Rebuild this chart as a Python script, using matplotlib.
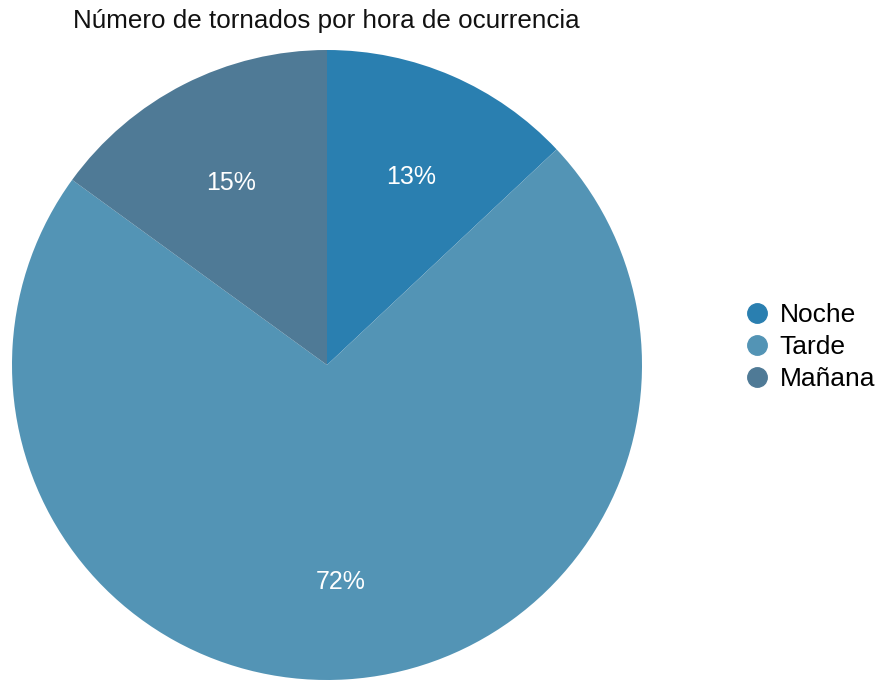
import matplotlib.pyplot as plt
import matplotlib.transforms as mtransforms
from matplotlib.lines import Line2D

plt.rcParams['font.family'] = ['Liberation Sans', 'DejaVu Sans']

categories = ['Noche', 'Tarde', 'Mañana']
values = [13, 72, 15]
colors = ['#2a7fb0', '#5394b5', '#4f7a96']

fig = plt.figure(figsize=(8.77, 6.8), dpi=100)

# pie axes: centre ~ (327, 365) px, radius ~315 px
ax = fig.add_axes([12 / 877, 0.0, 630 / 877, 630 / 680])
wedges, texts, autotexts = ax.pie(
    values, colors=colors, startangle=90, counterclock=False,
    autopct='%1.0f%%', pctdistance=0.67, radius=1.0,
    wedgeprops=dict(linewidth=0),
    textprops=dict(color='white', fontsize=18))
# labels sit a few pixels lower in the original
shift = mtransforms.ScaledTranslation(0, -6 / 100, fig.dpi_scale_trans)
for t in autotexts:
    t.set_transform(t.get_transform() + shift)
ax.set_xlim(-1, 1)
ax.set_ylim(-1, 1)
ax.set_aspect('equal')
ax.axis('off')

fig.text(73 / 877, 1 - 21 / 680, 'Número de tornados por hora de ocurrencia',
         fontsize=18.7, ha='left', va='center', color='#111111')

handles = [Line2D([0], [0], marker='o', linestyle='', markersize=14,
                  markerfacecolor=c, markeredgecolor=c) for c in colors]
fig.legend(handles, categories, loc='center left',
           bbox_to_anchor=(728 / 877, 1 - 347 / 680), frameon=False,
           fontsize=19, handletextpad=0.25, labelspacing=0.3,
           handlelength=1.2, borderpad=0)

fig.savefig('out.png', dpi=100)
